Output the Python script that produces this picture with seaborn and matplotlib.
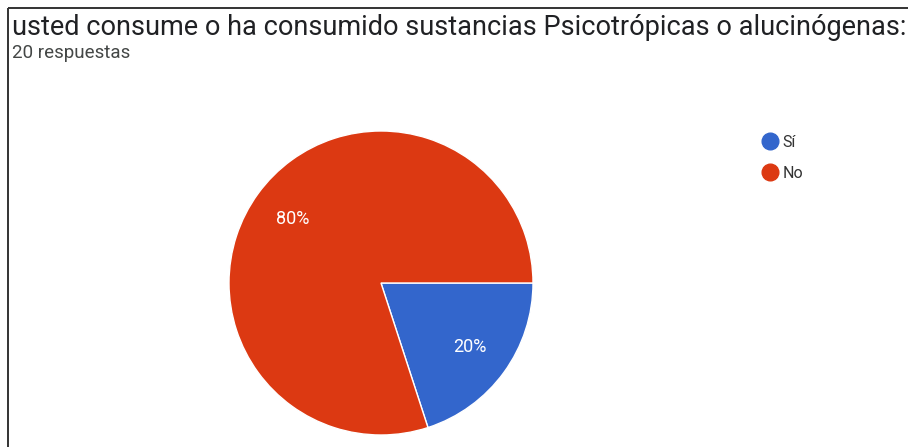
import matplotlib
matplotlib.use("Agg")
import matplotlib.pyplot as plt
import seaborn as sns
from matplotlib.lines import Line2D

# Survey answers
categories = ["Sí", "No"]
counts = [4, 16]
total_responses = 20
title = "usted consume o ha consumido sustancias Psicotrópicas o alucinógenas:"
subtitle = f"{total_responses} respuestas"

sns.set_theme(style="white")
plt.rcParams["font.family"] = ["Roboto", "DejaVu Sans"]

colors = ["#3366cc", "#dc3912"]

W, H = 908, 447
fig = plt.figure(figsize=(W / 100, H / 100), dpi=100)
fig.patch.set_facecolor("white")

# Frame: top and left edges
frame = fig.add_axes([0, 0, 1, 1], facecolor="none")
frame.set_xlim(0, W)
frame.set_ylim(H, 0)
frame.axis("off")
frame.plot([8, W], [8, 8], color="#333333", lw=1.4, solid_capstyle="butt")
frame.plot([8, 8], [8, H], color="#333333", lw=1.4, solid_capstyle="butt")

# Title, scaled to span the header width
t = fig.text(12 / W, 1 - 35 / H, title, fontsize=17, color="#202124",
             ha="left", va="baseline")
fig.canvas.draw()
r = fig.canvas.get_renderer()
w = t.get_window_extent(r).width
t.set_fontsize(17 * (891 / w))

s = fig.text(12 / W, 1 - 58 / H, subtitle, fontsize=11, color="#444746",
             ha="left", va="baseline")
fig.canvas.draw()
w = s.get_window_extent(r).width
s.set_fontsize(11 * (118 / w))

# Pie
cx, cy, rad = 381, 283, 152
ax = fig.add_axes([(cx - rad) / W, (H - cy - rad) / H, 2 * rad / W, 2 * rad / H])
wedges, _, autotexts = ax.pie(
    counts, colors=colors, startangle=0, counterclock=False,
    autopct=lambda p: f"{p:.0f}%", pctdistance=0.72,
    wedgeprops=dict(edgecolor="white", linewidth=1.0),
    textprops=dict(color="white", fontsize=13),
)
ax.set_xlim(-1, 1)
ax.set_ylim(-1, 1)
ax.set_aspect("equal")

# Legend
handles = [Line2D([], [], marker="o", linestyle="", markersize=12,
                  markerfacecolor=c, markeredgecolor=c) for c in colors]
fig.legend(handles, categories, loc="upper left",
           bbox_to_anchor=(760 / W, 1 - 135 / H), frameon=False,
           fontsize=11.5, handletextpad=0.2, labelspacing=1.0,
           handlelength=1.2, borderaxespad=0, borderpad=0,
           labelcolor="#333333")

fig.savefig("out.png", dpi=100, facecolor="white")
